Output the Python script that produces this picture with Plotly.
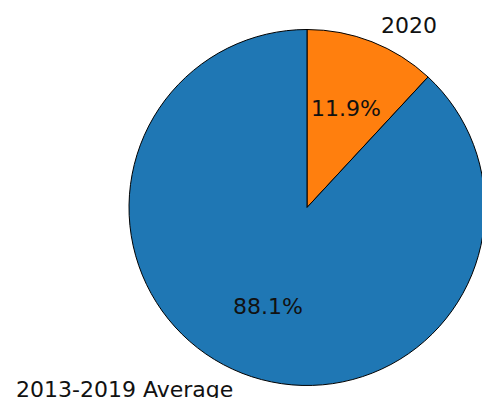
import math
import plotly.graph_objects as go

labels = ["2020", "2013-2019 Average"]
values = [11.9, 88.1]
colors = ["#ff7f0e", "#1f77b4"]

W, H = 490, 398          # figure slightly wider than the 482 window; right edge of pie is cut like the reference
CX, CY, R = 307, 207.5, 178  # pie centre/radius in pixels
PCT_DIST, LABEL_DIST = 0.6, 1.1
FONT = "DejaVu Sans, sans-serif"

fig = go.Figure(go.Pie(
    labels=labels, values=values, sort=False, direction="clockwise", rotation=0,
    marker=dict(colors=colors, line=dict(color="black", width=1)),
    textinfo="none", hoverinfo="label+percent", showlegend=False,
    domain=dict(x=[(CX - R) / W, min(1, (CX + R) / W)],
                y=[1 - (CY + R) / H, 1 - (CY - R) / H]),
))

total = sum(values)
annotations = []
start = 90.0
for lab, v in zip(labels, values):
    sweep = 360.0 * v / total
    mid = math.radians(start - sweep / 2)
    start -= sweep
    cx, cy = math.cos(mid), math.sin(mid)
    px = CX + PCT_DIST * R * cx
    py = CY - PCT_DIST * R * cy
    annotations.append(dict(x=px / W, y=1 - py / H, xref="paper", yref="paper",
                            text=f"{v / total * 100:.1f}%", showarrow=False,
                            xanchor="center", yanchor="middle",
                            font=dict(family=FONT, size=22, color="#111111")))
    lx = CX + LABEL_DIST * R * cx
    ly = CY - LABEL_DIST * R * cy
    annotations.append(dict(x=lx / W, y=1 - ly / H, xref="paper", yref="paper",
                            text=lab, showarrow=False,
                            xanchor="left" if cx > 0 else "right", yanchor="middle",
                            font=dict(family=FONT, size=22, color="#111111")))

fig.update_layout(width=W, height=H, margin=dict(l=0, r=0, t=0, b=0),
                  paper_bgcolor="white", plot_bgcolor="white",
                  annotations=annotations)

fig.write_html("out.html", config={"displayModeBar": False},
               post_script="document.body.style.margin='0';document.body.style.overflow='hidden';")
